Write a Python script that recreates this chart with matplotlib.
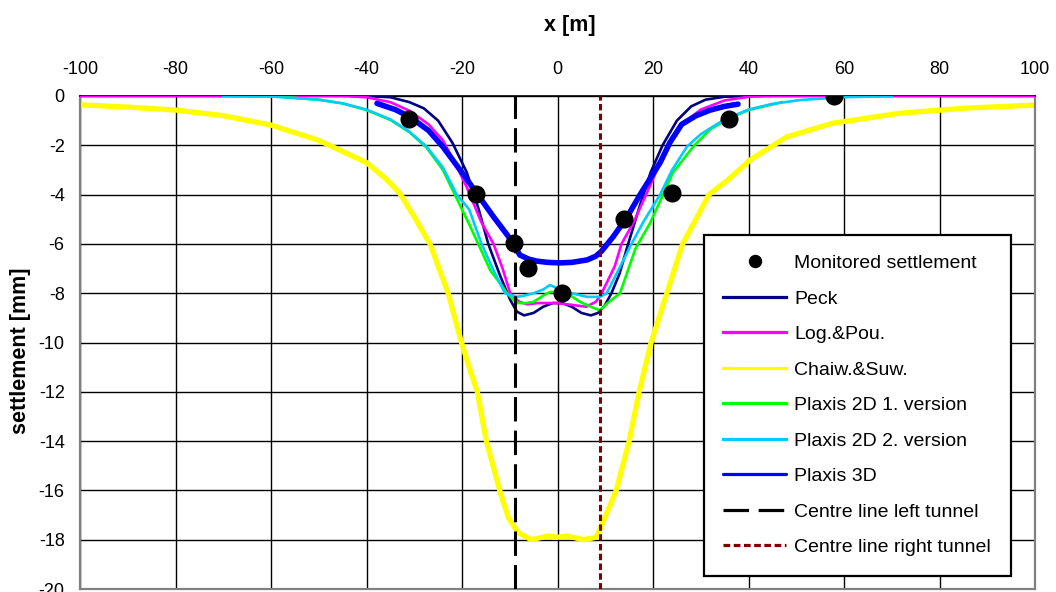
import matplotlib
matplotlib.use("Agg")
import matplotlib.pyplot as plt

plt.rcParams['font.family'] = ['Liberation Sans', 'DejaVu Sans']
plt.rcParams['axes.unicode_minus'] = False

# ---- data ----
# monitored surface settlement
mon_x = [-31.1, -17.1, -9.1, -6.2, 0.9, 13.9, 24.0, 35.9, 57.9]
mon_y = [-0.93, -3.98, -5.96, -6.98, -8.0, -4.99, -3.94, -0.93, 0.0]

# Peck
peck_x = [-40, -35, -31, -28, -25, -22, -19, -16.5, -14.5, -12, -9.9, -8.5, -7, -5, -3, -1, 0,
          1, 3, 5, 7, 8.5, 9.9, 11.3, 13, 14.8, 17, 19.5, 22, 25, 28, 31, 35, 40]
peck_y = [0, -0.05, -0.25, -0.5, -1.0, -1.9, -3.1, -4.6, -6.0, -7.3, -8.27, -8.75, -8.9, -8.8,
          -8.55, -8.4, -8.4, -8.4, -8.55, -8.8, -8.9, -8.8, -8.5, -8.0, -7.2, -6.0, -4.6, -3.1,
          -2.0, -1.0, -0.42, -0.15, -0.03, 0]

# Log.&Pou.
log_x = [-100, -45, -40, -35, -31, -27, -24, -21.5, -19, -16, -13.4, -11.5, -9.9, -8, -6.4, -4,
         -2, 0, 2, 4, 6, 8, 9, 10.5, 12, 13.4, 16, 19, 21.5, 24, 27, 30, 35, 40, 45, 100]
log_y = [0, 0, -0.05, -0.25, -0.6, -1.15, -1.8, -2.7, -3.7, -5.1, -6.0, -7.0, -8.0, -8.35, -8.45,
         -8.4, -8.4, -8.4, -8.45, -8.5, -8.55, -8.35, -8.1, -7.5, -6.9, -6.0, -5.1, -3.8, -2.7,
         -1.65, -1.0, -0.55, -0.18, -0.03, 0, 0]

# Chaiw.&Suw.
chaiw_x = [-100, -90, -80, -70, -60, -50, -45, -40, -36, -33, -30, -26.7, -22.9, -20.1, -18.5,
           -16.8, -14.9, -12.1, -10.3, -8.3, -5.5, -2, 0, 2, 5.5, 8.1, 9.5, 12.3, 15, 17.1, 19.6,
           22.9, 26.2, 29, 31.7, 35.7, 40.3, 48, 57.7, 71.7, 85.7, 100]
chaiw_y = [-0.36, -0.45, -0.57, -0.8, -1.18, -1.8, -2.25, -2.7, -3.35, -3.95, -4.9, -6.0, -8.0,
           -10.0, -11.0, -12.0, -14.0, -16.0, -17.1, -17.7, -18.0, -17.85, -17.9, -17.85, -18.0,
           -17.9, -17.3, -16.0, -14.0, -12.0, -10.0, -8.0, -6.0, -5.0, -4.0, -3.4, -2.6, -1.66,
           -1.1, -0.7, -0.49, -0.37]

# Plaxis 2D 1. version
p2d1_x = [-60, -50, -45, -40, -35, -31, -27.4, -24, -21.5, -18.5, -16.6, -14, -12, -10.6, -8.5,
          -6.5, -5, -3, -1.6, 0, 2, 4.7, 7, 8.9, 10.5, 13.1, 16.3, 19.4, 22.1, 24.2, 28.4, 32, 36,
          40, 47]
p2d1_y = [0, -0.15, -0.3, -0.57, -0.97, -1.47, -2.1, -3.0, -4.0, -5.2, -6.0, -7.1, -7.6, -8.0,
          -8.4, -8.4, -8.35, -8.1, -7.95, -7.95, -8.0, -8.35, -8.55, -8.7, -8.4, -8.0, -6.2,
          -5.15, -4.0, -3.1, -2.06, -1.35, -0.9, -0.57, -0.25]

# Plaxis 2D 2. version
p2d2_x = [-70, -60, -50, -45, -40, -35, -31, -27.4, -24, -21.1, -18.5, -15.9, -13.4, -11, -9.5,
          -8.5, -7, -5, -3, -1.6, 0, 2, 4, 6.2, 8.9, 10.3, 12.4, 15.5, 18, 21.5, 24, 27.1, 30, 35,
          40, 45, 51, 60, 70]
p2d2_y = [0, -0.02, -0.15, -0.3, -0.55, -0.95, -1.45, -2.06, -2.9, -4.0, -4.6, -6.0, -7.07, -8.0,
          -8.1, -8.15, -8.1, -8.0, -7.85, -7.67, -7.8, -7.95, -8.05, -8.15, -8.15, -8.0, -7.2,
          -6.0, -5.1, -4.0, -3.0, -2.06, -1.55, -0.95, -0.55, -0.32, -0.16, -0.05, 0]

# Plaxis 3D
p3d_x = [-37.8, -34, -30.9, -27, -24, -20.4, -16.9, -13.4, -9.5, -7.9, -6, -4.3, -2, 0.5, 3, 6.2,
         8, 9.2, 11.7, 14.6, 17.3, 21.5, 23.5, 26, 29, 32, 35, 37.8]
p3d_y = [-0.3, -0.55, -0.85, -1.4, -2.06, -3.0, -3.95, -4.9, -5.9, -6.45, -6.62, -6.7, -6.75,
         -6.77, -6.75, -6.65, -6.5, -6.3, -5.7, -4.9, -4.0, -2.7, -1.9, -1.15, -0.8, -0.57, -0.42,
         -0.33]

# tunnel centre lines
left_tunnel_x = -9
right_tunnel_x = 9

x_ticks = list(range(-100, 101, 20))
y_ticks = list(range(0, -21, -2))

# ---- figure ----
fig = plt.figure(figsize=(10.56, 5.92), dpi=100)
ax = fig.add_axes([80 / 1056, 1 - 589 / 592, 955 / 1056, 493 / 592])

ax.plot(mon_x, mon_y, 'o', color='black', markersize=12, label='Monitored settlement', zorder=10)
ax.plot(peck_x, peck_y, color='#000080', lw=1.9, label='Peck', zorder=3)
ax.plot(log_x, log_y, color='#FF00FF', lw=1.9, label='Log.&Pou.', zorder=4)
ax.plot(chaiw_x, chaiw_y, color='#FFFF00', lw=3.8, label='Chaiw.&Suw.', zorder=2)
ax.plot(p2d1_x, p2d1_y, color='#00FF00', lw=1.9, label='Plaxis 2D 1. version', zorder=5)
ax.plot(p2d2_x, p2d2_y, color='#00CCFF', lw=1.9, label='Plaxis 2D 2. version', zorder=6)
ax.plot(p3d_x, p3d_y, color='#0000FF', lw=4, label='Plaxis 3D', zorder=7,
        solid_capstyle='round')
ax.axvline(left_tunnel_x, color='black', lw=2.2, linestyle=(0, (8, 3)),
           label='Centre line left tunnel', zorder=8)
ax.axvline(right_tunnel_x, color='#800000', lw=2.2, linestyle=(0, (2.1, 1.1)),
           label='Centre line right tunnel', zorder=8)

ax.set_xlim(-100, 100)
ax.set_ylim(-20, 0)
ax.set_xticks(x_ticks)
ax.set_yticks(y_ticks)
ax.xaxis.tick_top()
ax.tick_params(axis='both', length=0, labelsize=13)
ax.tick_params(axis='x', pad=13)
ax.tick_params(axis='y', pad=11)

ax.grid(True, color='black', lw=1.0)
ax.set_axisbelow(True)
for s in ax.spines.values():
    s.set_color('#808080')
    s.set_linewidth(1.6)
ax.spines['top'].set_color('black')
ax.spines['top'].set_linewidth(1.2)

fig.text(570 / 1056, 1 - 25 / 592, 'x [m]', ha='center', va='center',
         fontsize=15.5, fontweight='bold')
fig.text(21 / 1056, 1 - 351 / 592, 'settlement [mm]', ha='center', va='center',
         rotation=90, fontsize=15.5, fontweight='bold')

leg = ax.legend(loc='upper left', bbox_to_anchor=((704 - 80) / 955, (589 - 235) / 493),
                borderaxespad=0, fontsize=14, frameon=True, fancybox=False,
                edgecolor='black', framealpha=1, handlelength=3.2, handletextpad=0.45,
                labelspacing=0.92, borderpad=1.0, markerscale=0.72)
leg.get_frame().set_linewidth(1.6)
leg.set_zorder(20)
# legend samples all drawn with the same moderate thickness
for h in leg.get_lines()[1:]:
    h.set_linewidth(2.3)

fig.savefig('out.png', dpi=100)
